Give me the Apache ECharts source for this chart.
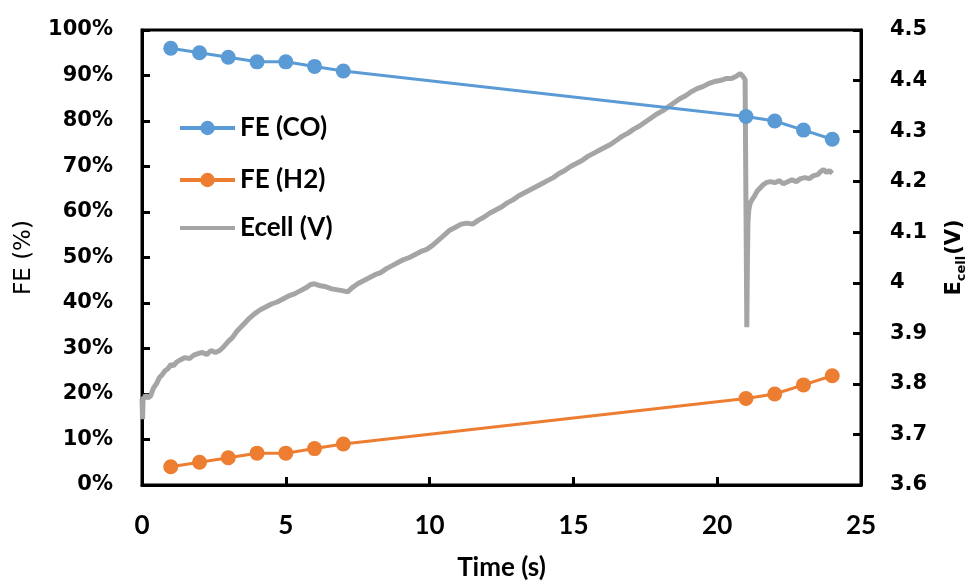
<!DOCTYPE html>
<html>
<head>
<meta charset="utf-8">
<script src="https://cdn.jsdelivr.net/npm/echarts@6/dist/echarts.min.js"></script>
<style>html,body{margin:0;padding:0;background:#fff;}#c{width:976px;height:586px;}</style>
</head>
<body>
<div id="c"></div>
<script>
// FE measurement times (s) and faradaic efficiencies (%)
const timeFE = [1, 2, 3, 4, 5, 6, 7, 21, 22, 23, 24];
const feCO = [96, 95, 94, 93, 93, 92, 91, 81, 80, 78, 76];
const feH2 = [4, 5, 6, 7, 7, 8, 9, 19, 20, 22, 24];

// Cell voltage trace
const ecellTime = [0.00,0.02,0.04,0.07,0.12,0.2,0.3,0.4,0.5,0.6,0.7,0.8,0.9,1.0,1.1,1.2,1.35,1.5,1.65,1.8,1.95,2.1,2.25,2.4,2.55,2.7,2.85,3.0,3.15,3.3,3.5,3.7,3.9,4.1,4.3,4.5,4.7,4.9,5.1,5.3,5.5,5.7,5.85,6.0,6.2,6.4,6.6,6.8,7.0,7.15,7.3,7.5,7.7,7.9,8.1,8.3,8.5,8.7,8.9,9.1,9.3,9.5,9.7,9.9,10.1,10.3,10.5,10.7,10.9,11.1,11.3,11.5,11.7,11.9,12.1,12.3,12.5,12.7,12.9,13.1,13.3,13.5,13.7,13.9,14.1,14.3,14.5,14.7,14.9,15.1,15.3,15.5,15.7,15.9,16.1,16.3,16.5,16.7,16.9,17.1,17.3,17.5,17.7,17.9,18.1,18.3,18.5,18.7,18.9,19.1,19.3,19.5,19.7,19.9,20.1,20.3,20.5,20.65,20.8,20.9,20.97,21.0,21.03,21.05,21.07,21.1,21.15,21.22,21.3,21.4,21.5,21.6,21.7,21.85,22.0,22.15,22.3,22.45,22.6,22.75,22.9,23.05,23.2,23.35,23.5,23.6,23.7,23.8,23.9,24.0];
const ecellV = [3.77,3.73,3.775,3.77,3.778,3.772,3.776,3.792,3.800,3.812,3.818,3.826,3.830,3.838,3.836,3.843,3.848,3.852,3.850,3.857,3.860,3.862,3.858,3.866,3.862,3.866,3.874,3.884,3.892,3.904,3.916,3.928,3.938,3.946,3.952,3.958,3.962,3.968,3.974,3.978,3.984,3.990,3.996,3.998,3.994,3.992,3.988,3.986,3.984,3.982,3.990,3.998,4.004,4.010,4.016,4.020,4.028,4.034,4.040,4.046,4.050,4.056,4.062,4.066,4.074,4.084,4.094,4.104,4.110,4.116,4.118,4.116,4.124,4.130,4.138,4.144,4.150,4.158,4.164,4.172,4.178,4.184,4.190,4.196,4.202,4.208,4.216,4.222,4.230,4.236,4.242,4.250,4.256,4.262,4.268,4.274,4.282,4.290,4.296,4.304,4.310,4.318,4.326,4.334,4.340,4.348,4.356,4.364,4.370,4.378,4.384,4.388,4.394,4.398,4.400,4.404,4.404,4.408,4.414,4.408,4.402,4.400,3.912,4.04,4.12,4.145,4.158,4.165,4.172,4.182,4.188,4.194,4.198,4.200,4.198,4.202,4.196,4.200,4.204,4.200,4.206,4.208,4.206,4.212,4.214,4.220,4.224,4.218,4.222,4.216,4.218];

// Axis tick settings
const xTicks = {min: 0, max: 25, interval: 5};
const feTicks = {min: 0, max: 100, interval: 10};
const vTicks = {min: 3.6, max: 4.5, interval: 0.1};

const chart = echarts.init(document.getElementById('c'), null, {renderer: 'canvas'});
const legendText = {fontFamily: 'Lato, "Liberation Sans", sans-serif', fontWeight: 'bold', fontSize: 26, color: '#000', lineHeight: 30};
function mkLegend(name, top, hideSymbol) {
  const lg = {data: [name], left: 178, top: top, orient: 'vertical', itemWidth: 55, itemHeight: 18, itemGap: 0, padding: 0,
    textStyle: legendText, lineStyle: {width: 4}};
  if (hideSymbol) lg.itemStyle = {opacity: 0};
  return lg;
}
const option = {
  animation: false,
  backgroundColor: '#fff',
  grid: {left: 142, right: 109, top: 30, bottom: 97, show: true, borderColor: '#000', borderWidth: 3, containLabel: false},
  legend: [mkLegend('FE (CO)', 113, false), mkLegend('FE (H2)', 165, false), mkLegend('Ecell (V)', 213, true)],
  xAxis: {
    type: 'value', min: xTicks.min, max: xTicks.max, interval: xTicks.interval,
    name: 'Time (s)', nameLocation: 'middle', nameGap: 70,
    nameTextStyle: {fontFamily: 'Lato, "Liberation Sans", sans-serif', fontWeight: 'bold', fontSize: 26, color: '#000'},
    axisLine: {lineStyle: {color: '#000', width: 3}},
    axisTick: {inside: true, length: 8, lineStyle: {color: '#000', width: 3}},
    axisLabel: {margin: 28, fontFamily: 'Lato, "Liberation Sans", sans-serif', fontWeight: 'bold', fontSize: 26, color: '#000'},
    splitLine: {show: false}
  },
  yAxis: [{
    type: 'value', min: feTicks.min, max: feTicks.max, interval: feTicks.interval,
    name: 'FE (%)', nameLocation: 'middle', nameGap: 106, nameRotate: 90,
    nameTextStyle: {fontFamily: '"DejaVu Sans", sans-serif', fontSize: 23, color: '#000'},
    axisLine: {show: true, lineStyle: {color: '#000', width: 3}},
    axisTick: {show: true, inside: true, length: 8, lineStyle: {color: '#000', width: 3}},
    axisLabel: {margin: 29, formatter: '{value}%', fontFamily: '"DejaVu Sans", sans-serif', fontWeight: 'bold', fontSize: 21, color: '#000'},
    splitLine: {show: false}
  }, {
    type: 'value', position: 'right', min: vTicks.min, max: vTicks.max, interval: vTicks.interval,
    name: '{e|E}{s|cell}{e|(V)}', nameLocation: 'middle', nameGap: 76, nameRotate: 90,
    nameTextStyle: {
      color: '#000',
      rich: {
        e: {fontFamily: '"DejaVu Sans", sans-serif', fontWeight: 'bold', fontSize: 21, color: '#000', lineHeight: 28, verticalAlign: 'bottom'},
        s: {fontFamily: '"DejaVu Sans", sans-serif', fontWeight: 'bold', fontSize: 13, color: '#000', lineHeight: 28, verticalAlign: 'bottom', padding: [0, 1, -3, 0]}
      }
    },
    axisLine: {show: true, lineStyle: {color: '#000', width: 3}},
    axisTick: {show: true, inside: true, length: 8, lineStyle: {color: '#000', width: 3}},
    axisLabel: {margin: 29, formatter: v => String(parseFloat(v.toFixed(1))), fontFamily: '"DejaVu Sans", sans-serif', fontWeight: 'bold', fontSize: 21, color: '#000'},
    splitLine: {show: false}
  }],
  series: [{
    name: 'FE (CO)', type: 'line', yAxisIndex: 0,
    data: timeFE.map((t, i) => [t, feCO[i]]),
    symbol: 'circle', symbolSize: 15,
    itemStyle: {color: '#5B9BD5'}, lineStyle: {color: '#5B9BD5', width: 3}, z: 3
  }, {
    name: 'FE (H2)', type: 'line', yAxisIndex: 0,
    data: timeFE.map((t, i) => [t, feH2[i]]),
    symbol: 'circle', symbolSize: 15,
    itemStyle: {color: '#ED7D31'}, lineStyle: {color: '#ED7D31', width: 3}, z: 3
  }, {
    name: 'Ecell (V)', type: 'line', yAxisIndex: 1,
    data: ecellTime.map((t, i) => [t, ecellV[i]]),
    showSymbol: false, symbol: 'none',
    itemStyle: {color: '#A5A5A5'}, lineStyle: {color: '#A5A5A5', width: 5}, z: 2
  }]
};
chart.setOption(option);
</script>
</body>
</html>
